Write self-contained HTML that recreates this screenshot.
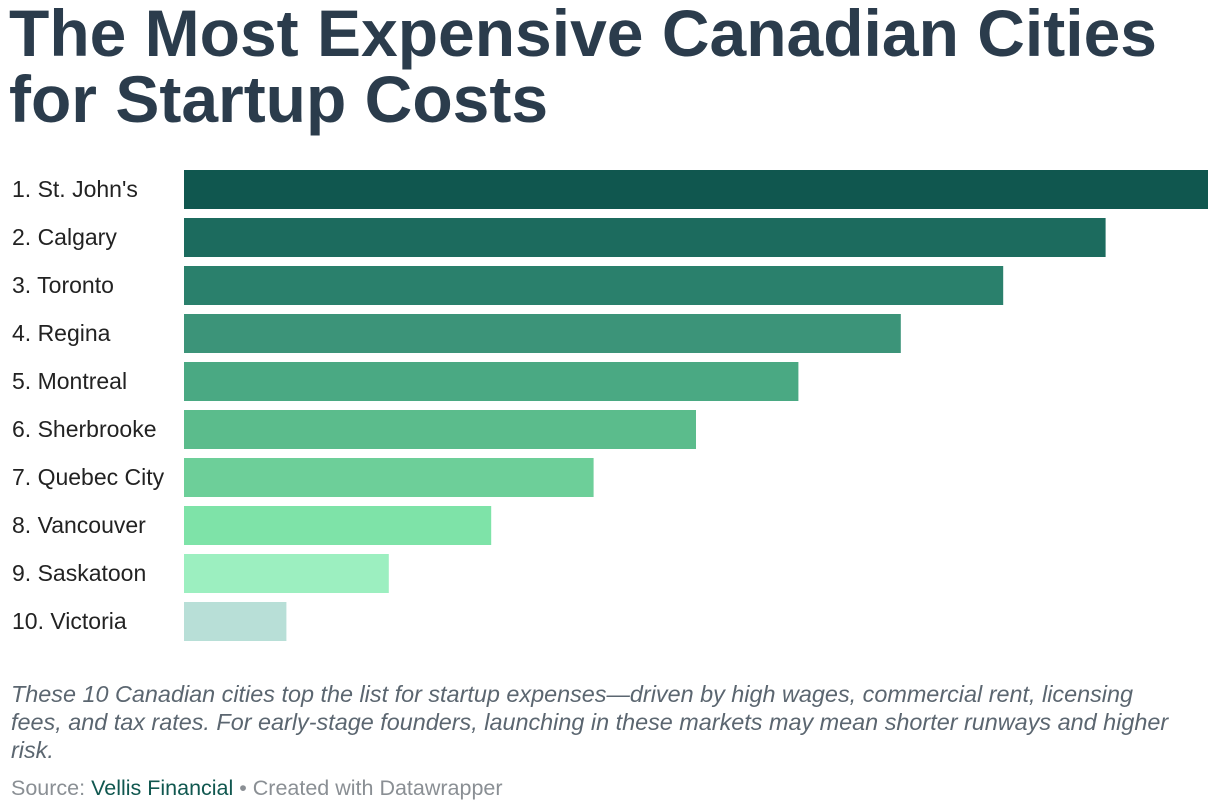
<!DOCTYPE html>
<html><head><meta charset="utf-8">
<style>
body{margin:0;width:1220px;height:812px;background:#fff;overflow:hidden;font-family:"Liberation Sans",sans-serif;position:relative}
#title{position:absolute;left:9px;top:0px;margin:0;font-size:66px;line-height:66px;font-weight:bold;color:#2b3c4c;letter-spacing:0}
#chart{position:absolute;left:0;top:0}
#desc{position:absolute;left:11px;top:680px;width:1165px;font-size:23.4px;line-height:28px;font-style:italic;color:#5b6670}
#source{position:absolute;left:11px;top:776px;font-size:21.5px;color:#8a8f94}
#source b{color:#10574f;font-weight:normal}
</style></head><body>
<h1 id="title">The Most Expensive Canadian Cities<br>for Startup Costs</h1>
<svg id="chart" width="1220" height="660"></svg>
<div id="desc">These 10 Canadian cities top the list for startup expenses—driven by high wages, commercial rent, licensing fees, and tax rates. For early-stage founders, launching in these markets may mean shorter runways and higher risk.</div>
<div id="source">Source: <b>Vellis Financial</b> • Created with Datawrapper</div>
<script>
const categories=["1. St. John's","2. Calgary","3. Toronto","4. Regina","5. Montreal","6. Sherbrooke","7. Quebec City","8. Vancouver","9. Saskatoon","10. Victoria"];
const values=[10,9,8,7,6,5,4,3,2,1];
const colors=["#10574f","#1c6b5e","#2a806c","#3c9479","#4aa983","#5bbc8c","#6dcf99","#7ee3a8","#9cefc0","#b8dfd7"];
const NS="http://www.w3.org/2000/svg";
const svg=document.getElementById('chart');
const x0=184,x1=1208,maxV=Math.max(...values);
const xs=v=>(v/maxV)*(x1-x0);
const ys=i=>170+i*48;
categories.forEach((c,i)=>{
  const t=document.createElementNS(NS,'text');
  t.setAttribute('x',12);t.setAttribute('y',ys(i)+27);
  t.setAttribute('font-size','23');t.setAttribute('fill','#222');
  t.setAttribute('font-family','Liberation Sans, sans-serif');
  t.textContent=c;
  
  
  svg.appendChild(t);
  const r=document.createElementNS(NS,'rect');
  r.setAttribute('x',x0);r.setAttribute('y',ys(i));
  r.setAttribute('width',xs(values[i]));r.setAttribute('height',39);
  r.setAttribute('fill',colors[i]);
  
  
  svg.appendChild(r);
});
</script>
</body></html>
